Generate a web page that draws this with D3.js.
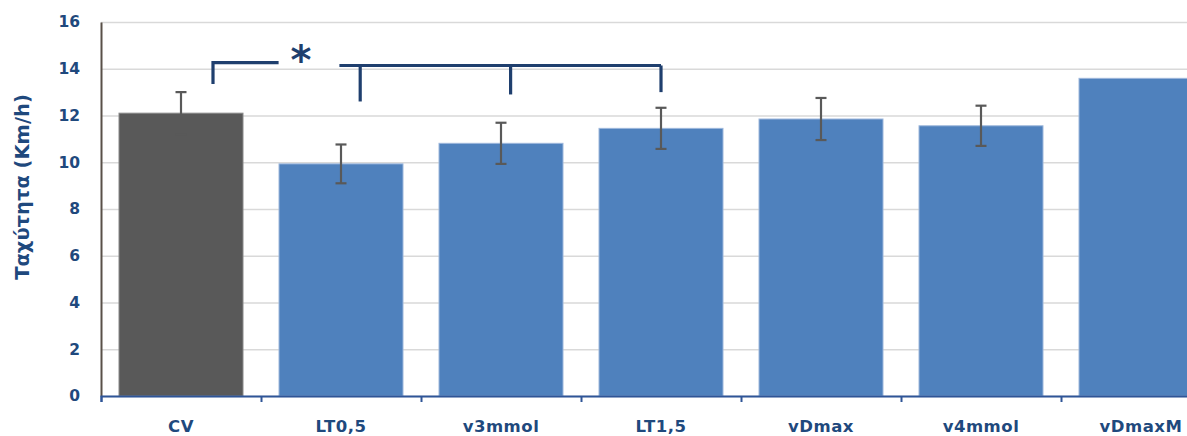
<!DOCTYPE html>
<html lang="el">
<head>
<meta charset="UTF-8">
<script src="https://d3js.org/d3.v7.min.js"></script>
<style>
  body { margin: 0; background: #fff; overflow: hidden; }
  svg { display: block; }
  svg text { font-family: 'DejaVu Sans', sans-serif; font-weight: bold; }
</style>
</head>
<body>
<div id="wrapper"></div>
<script>
// data
const categories = ["CV", "LT0,5", "v3mmol", "LT1,5", "vDmax", "v4mmol", "vDmaxM"];
const speeds     = [12.1, 9.93, 10.81, 11.45, 11.85, 11.56, 13.59];
const errors     = [0.9, 0.83, 0.88, 0.88, 0.9, 0.86, null];
const yTicks     = [0, 2, 4, 6, 8, 10, 12, 14, 16];
const yTitle     = "Ταχύτητα (Km/h)";

// significance bracket: [category, fraction of band], levels in km/h
const leftArm  = { from: ["CV", 0.70], to: ["LT0,5", 0.11], level: 14.26, drop: 13.35 };
const rightArm = { from: ["LT0,5", 0.49], to: ["LT1,5", 0.50], level: 14.14,
                   legs: [["LT0,5", 0.62, 12.6], ["v3mmol", 0.56, 12.9], ["LT1,5", 0.50, 13.0]] };
const starAt   = ["LT0,5", 0.25, 13.78];

const dims = {
  width: 1187, height: 436,
  margin: { top: 22, right: -34, bottom: 40, left: 101 }
};
dims.boundedWidth = dims.width - dims.margin.left - dims.margin.right;
dims.boundedHeight = dims.height - dims.margin.top - dims.margin.bottom;

const navy = "#1f3f6e";
const textNavy = "#1f497d";

const svg = d3.select("#wrapper").append("svg")
  .attr("width", dims.width)
  .attr("height", dims.height);

const bounds = svg.append("g")
  .attr("transform", `translate(${dims.margin.left},${dims.margin.top})`);

const xScale = d3.scaleBand()
  .domain(categories)
  .range([0, dims.boundedWidth])
  .paddingInner(0.225)
  .paddingOuter(0.1125);

const edgeScale = d3.scaleLinear()
  .domain([0, categories.length])
  .range([0, dims.boundedWidth]);

const yScale = d3.scaleLinear()
  .domain([0, 16])
  .range([dims.boundedHeight, 0]);

const bandX = (cat, frac) => xScale(cat) - xScale.step() * xScale.paddingOuter() + xScale.step() * frac;

// gridlines
const grid = bounds.append("g")
  .call(d3.axisLeft(yScale).tickValues(yTicks).tickSize(-dims.boundedWidth).tickFormat(""));
grid.select(".domain").remove();
grid.selectAll("line").attr("stroke", "#d9d9d9").attr("stroke-width", 1.5);

// bars
bounds.append("g").selectAll("rect")
  .data(categories)
  .join("rect")
    .attr("x", d => xScale(d))
    .attr("width", xScale.bandwidth())
    .attr("y", (d, i) => yScale(speeds[i]))
    .attr("height", (d, i) => dims.boundedHeight - yScale(speeds[i]))
    .attr("fill", (d, i) => i === 0 ? "#595959" : "#4f81bd")
    .attr("stroke", (d, i) => i === 0 ? "#8a8a8a" : "#9db7dc")
    .attr("stroke-width", 1);

// error bars
const errG = bounds.append("g")
  .attr("stroke", "#595959")
  .attr("stroke-width", 2.2);
categories.forEach((c, i) => {
  if (errors[i] == null) return;
  const cx = xScale(c) + xScale.bandwidth() / 2;
  const y1 = yScale(speeds[i] + errors[i]);
  const y0 = yScale(speeds[i] - errors[i]);
  errG.append("line").attr("x1", cx).attr("x2", cx).attr("y1", y1).attr("y2", y0);
  errG.append("line").attr("x1", cx - 5.5).attr("x2", cx + 5.5).attr("y1", y1).attr("y2", y1);
  errG.append("line").attr("x1", cx - 5.5).attr("x2", cx + 5.5).attr("y1", y0).attr("y2", y0);
});

// y axis
const yAxis = bounds.append("g")
  .call(d3.axisLeft(yScale).tickValues(yTicks).tickSize(0).tickPadding(21));
yAxis.select(".domain").attr("stroke", "#595048").attr("stroke-width", 2);
yAxis.selectAll("text")
  .attr("fill", textNavy)
  .style("font-size", "15.5px");

yAxis.append("text")
  .attr("transform", "rotate(-90)")
  .attr("x", -(dims.boundedHeight / 2) + 22)
  .attr("y", -79)
  .attr("dy", "0.35em")
  .attr("fill", textNavy)
  .attr("text-anchor", "middle")
  .style("font-size", "19.5px")
  .text(yTitle);

// x axis: ticks on band edges, labels at centers
const xAxis = bounds.append("g")
  .attr("transform", `translate(0,${dims.boundedHeight})`)
  .call(d3.axisBottom(edgeScale).tickValues(d3.range(0, categories.length + 1)).tickSize(6).tickFormat(""));
xAxis.select(".domain").attr("stroke", "#2f5597").attr("stroke-width", 2);
xAxis.selectAll(".tick line").attr("stroke", "#2f5597").attr("stroke-width", 2);

const xLabels = bounds.append("g")
  .attr("transform", `translate(0,${dims.boundedHeight})`)
  .call(d3.axisBottom(xScale).tickSize(0).tickPadding(24));
xLabels.select(".domain").remove();
xLabels.selectAll("text")
  .attr("fill", textNavy)
  .style("font-size", "16.5px")
  .style("letter-spacing", "0.5px");

// significance annotation
const ann = bounds.append("g")
  .attr("stroke", navy)
  .attr("stroke-width", 3.2)
  .attr("fill", "none");

const lx0 = bandX(...leftArm.from), lx1 = bandX(...leftArm.to);
ann.append("path")
  .attr("d", d3.line()([[lx0, yScale(leftArm.drop)], [lx0, yScale(leftArm.level)], [lx1, yScale(leftArm.level)]]));

const rx0 = bandX(...rightArm.from), rx1 = bandX(...rightArm.to);
ann.append("line")
  .attr("x1", rx0).attr("x2", rx1)
  .attr("y1", yScale(rightArm.level)).attr("y2", yScale(rightArm.level));
rightArm.legs.forEach(([c, f, v]) => {
  const x = bandX(c, f);
  ann.append("line").attr("x1", x).attr("x2", x)
    .attr("y1", yScale(rightArm.level)).attr("y2", yScale(v));
});

bounds.append("text")
  .attr("x", bandX(starAt[0], starAt[1]))
  .attr("y", yScale(starAt[2]))
  .attr("text-anchor", "middle")
  .attr("fill", navy)
  .style("font-size", "40px")
  .text("*");
</script>
</body>
</html>
